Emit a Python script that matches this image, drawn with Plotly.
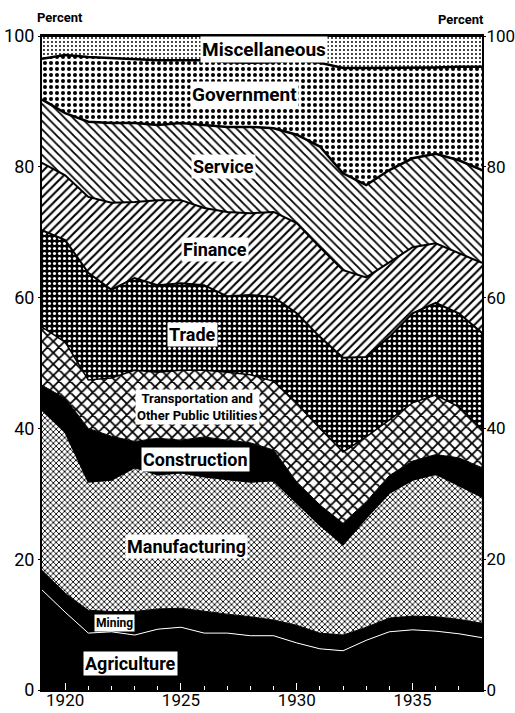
import plotly.graph_objects as go

years = list(range(1919, 1939))

agriculture = [15.3, 11.9, 8.7, 8.9, 8.4, 9.3, 9.6, 8.7, 8.7, 8.3, 8.3, 7.2, 6.3, 6.0, 7.6, 8.9, 9.2, 9.0, 8.6, 8.0]
mining = [3.0, 2.9, 3.5, 3.1, 3.6, 3.1, 2.9, 3.3, 2.9, 2.9, 2.4, 2.7, 2.4, 2.4, 2.0, 2.1, 2.1, 2.2, 2.2, 2.2]
manufacturing = [24.5, 24.6, 19.6, 20.1, 22.0, 20.5, 20.7, 20.6, 20.6, 20.6, 21.3, 18.7, 16.5, 13.8, 16.7, 19.1, 20.8, 21.8, 20.5, 19.3]
construction = [3.8, 5.2, 8.2, 6.7, 4.0, 5.6, 5.0, 6.1, 6.0, 6.0, 4.7, 3.2, 3.1, 3.3, 2.5, 2.7, 2.9, 3.0, 4.2, 4.5]
transportation = [8.9, 8.6, 7.4, 8.9, 10.9, 10.1, 10.7, 10.2, 10.4, 10.4, 10.5, 12.1, 11.7, 10.9, 9.9, 8.5, 8.9, 9.1, 7.8, 5.8]
trade = [14.8, 15.6, 16.4, 13.5, 14.1, 13.3, 13.3, 13.0, 11.6, 12.2, 12.9, 13.7, 14.0, 14.4, 12.2, 12.7, 13.7, 14.1, 14.3, 14.8]
finance = [10.3, 9.9, 11.6, 13.3, 11.6, 13.0, 12.7, 11.8, 12.9, 12.5, 13.0, 13.8, 13.7, 13.4, 12.2, 11.4, 10.1, 9.1, 9.2, 10.7]
service = [9.7, 9.5, 11.5, 12.2, 12.1, 11.5, 11.8, 12.7, 13.0, 13.2, 12.8, 13.5, 15.4, 14.8, 14.1, 14.1, 13.6, 13.7, 14.2, 14.2]
government = [6.2, 8.9, 9.9, 9.9, 9.8, 9.9, 9.6, 9.9, 9.9, 9.8, 10.1, 11.4, 12.8, 16.1, 17.9, 15.6, 13.9, 13.2, 14.3, 15.8]
miscellaneous = [3.5, 2.9, 3.2, 3.4, 3.5, 3.7, 3.7, 3.7, 4.0, 4.1, 4.0, 3.7, 4.1, 4.9, 4.9, 4.9, 4.8, 4.8, 4.7, 4.7]

series_names = ["Agriculture", "Mining", "Manufacturing", "Construction",
                "Transportation and Other Public Utilities", "Trade", "Finance",
                "Service", "Government", "Miscellaneous"]
series_values = [agriculture, mining, manufacturing, construction, transportation,
                 trade, finance, service, government, miscellaneous]

y_ticks = [0, 20, 40, 60, 80, 100]
x_ticks = [1920, 1925, 1930, 1935]

# styles (pattern per series)
styles = [
    dict(fillcolor="black", pattern=None, line=dict(color="white", width=1)),
    dict(fillcolor="black", pattern=None, line=dict(color="black", width=1)),
    dict(fillcolor=None, pattern=dict(shape="x", size=4, solidity=0.4, fgcolor="black", bgcolor="white"), line=dict(color="black", width=1.5)),
    dict(fillcolor="black", pattern=None, line=dict(color="black", width=1)),
    dict(fillcolor=None, pattern=dict(shape="x", size=8, solidity=0.4, fgcolor="black", bgcolor="white"), line=dict(color="black", width=1.5)),
    dict(fillcolor=None, pattern=dict(shape=".", size=5, solidity=0.3, fgcolor="white", bgcolor="black"), line=dict(color="black", width=2)),
    dict(fillcolor=None, pattern=dict(shape="/", size=6, solidity=0.35, fgcolor="black", bgcolor="white"), line=dict(color="black", width=2)),
    dict(fillcolor=None, pattern=dict(shape="\\", size=6, solidity=0.3, fgcolor="black", bgcolor="white"), line=dict(color="black", width=2.5)),
    dict(fillcolor=None, pattern=dict(shape=".", size=6, solidity=0.35, fgcolor="black", bgcolor="white"), line=dict(color="black", width=2.5)),
    dict(fillcolor=None, pattern=dict(shape=".", size=4, solidity=0.18, fgcolor="black", bgcolor="white"), line=dict(color="black", width=2)),
]

fig = go.Figure()
for name, vals, st in zip(series_names, series_values, styles):
    kw = dict(x=years, y=vals, name=name, mode="lines", stackgroup="one",
              groupnorm="percent", line=st["line"], hoverinfo="skip")
    if st["pattern"] is not None:
        p = st["pattern"]
        kw["fillpattern"] = dict(shape=p["shape"], size=p["size"], solidity=p["solidity"],
                                 fgcolor=p["fgcolor"], bgcolor=p["bgcolor"], fillmode="replace")
        kw["fillcolor"] = p["bgcolor"]
    else:
        kw["fillcolor"] = st["fillcolor"]
    fig.add_trace(go.Scatter(**kw))

# invisible trace for right axis
fig.add_trace(go.Scatter(x=[years[0], years[-1]], y=[0, 100], yaxis="y2", mode="markers",
                         marker=dict(opacity=0), showlegend=False, hoverinfo="skip"))

label_font = "Roboto, Liberation Sans, sans-serif"
labels = [
    ("Miscellaneous", 1928.59, 98.0, 19),
    ("Government", 1927.73, 91.0, 19),
    ("Service", 1926.82, 80.0, 18),
    ("Finance", 1926.47, 67.4, 18),
    ("Trade", 1925.48, 54.4, 18),
    ("Transportation and<br>Other Public Utilities", 1925.70, 43.3, 13),
    ("Construction", 1925.61, 35.2, 18),
    ("Manufacturing", 1925.26, 21.9, 18),
    ("Mining", 1922.11, 10.2, 12),
    ("Agriculture", 1922.84, 4.1, 18),
]
for text, lx, ly, fs in labels:
    fig.add_annotation(x=lx, y=ly, text="<b>" + text + "</b>", showarrow=False,
                       font=dict(family=label_font, size=fs, color="black"),
                       bgcolor="white", borderpad=1, align="center")

# "Percent" headers
fig.add_annotation(x=-0.015, y=1.0, xref="paper", yref="paper", yanchor="bottom", yshift=9,
                   text="<b>Percent</b>", showarrow=False,
                   font=dict(family=label_font, size=13, color="black"))
fig.add_annotation(x=1.008, y=1.0, xref="paper", yref="paper", yanchor="bottom", yshift=7,
                   text="<b>Percent</b>", showarrow=False,
                   font=dict(family=label_font, size=13, color="black"))

axis_font = dict(family=label_font, size=18, color="black")
fig.update_layout(
    width=515, height=713,
    margin=dict(l=42, r=33, t=36, b=23),
    paper_bgcolor="white", plot_bgcolor="white",
    showlegend=False,
    xaxis=dict(range=[1919, 1938], tickvals=x_ticks, ticktext=[str(v) for v in x_ticks],
               ticks="inside", ticklen=7, tickcolor="white", tickwidth=1,
               minor=dict(ticks="inside", dtick=1, tick0=1919, ticklen=4, tickcolor="white"),
               showgrid=False, zeroline=False, showline=True, linecolor="black", linewidth=2,
               mirror=True, tickfont=dict(family=label_font, size=17, color="black"),
               ticklabelstandoff=-6,
               layer="above traces", automargin=False),
    yaxis=dict(range=[0, 100], tickvals=y_ticks, ticks="outside", ticklen=2, tickcolor="black",
               showgrid=False, zeroline=False, showline=True, linecolor="black", linewidth=2,
               tickfont=axis_font, layer="above traces", automargin=False),
    yaxis2=dict(range=[0, 100], tickvals=y_ticks, overlaying="y", side="right", ticks="outside",
                ticklen=2, tickcolor="black", showgrid=False, zeroline=False, showline=True,
                linecolor="black", linewidth=2, tickfont=dict(family=label_font, size=17, color="black"),
                ticklabelstandoff=-3, automargin=False),
)

fig.write_html("out.html", config={"displayModeBar": False},
               post_script="document.body.style.margin='0';")
